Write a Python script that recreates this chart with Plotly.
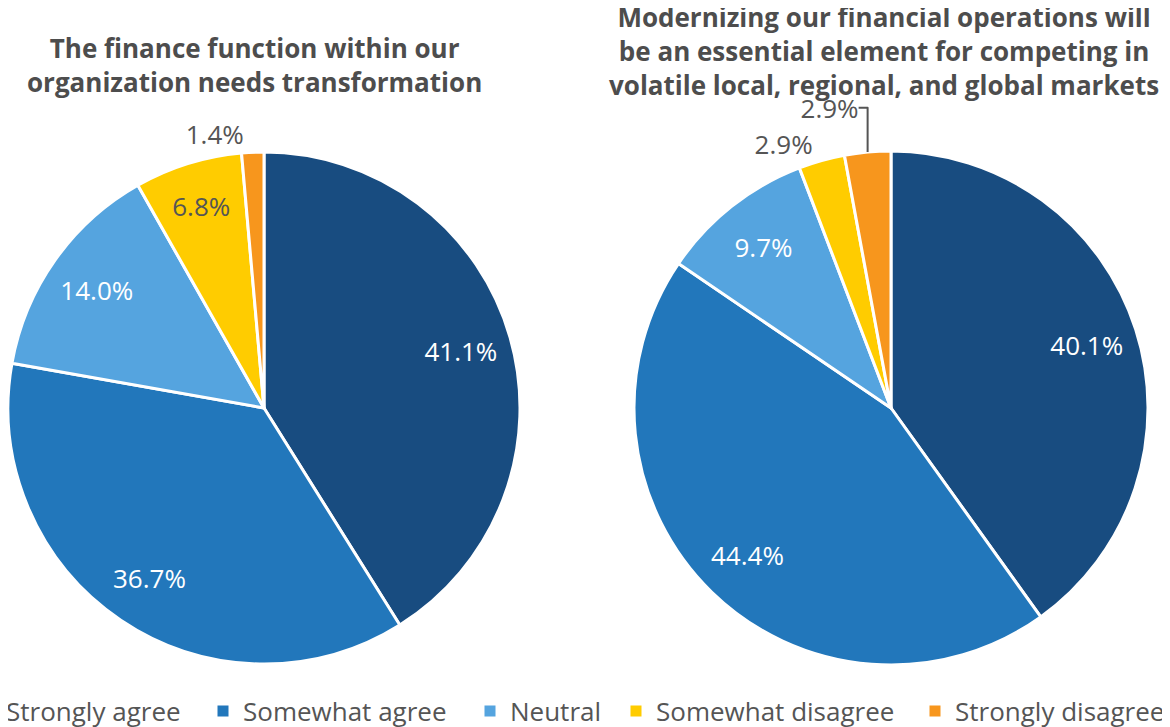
import plotly.graph_objects as go

labels = ['Strongly agree', 'Somewhat agree', 'Neutral', 'Somewhat disagree', 'Strongly disagree']
colors = ['#184c80', '#2277bb', '#55a4df', '#ffcc00', '#f7961d']

transform_vals = [41.1, 36.7, 14.0, 6.8, 1.4]
modernize_vals = [40.1, 44.4, 9.7, 2.9, 2.9]

title_left = 'The finance function within our<br>organization needs transformation'
title_right = ('Modernizing our financial operations will<br>be an essential element for competing in'
               '<br>volatile local, regional, and global markets')

W, H = 1170, 727
OFF = 8  # the page body adds an 8px margin, so positions are shifted back by it
gray = '#555555'
title_col = '#4d4d4d'
inside_cols = ['white', 'white', 'white', gray, gray]
FS = 26

# legend text starts (px), the first marker sits off the page like in the source
legend_text_x = [6, 243, 510, 656, 955]


def px_x(v):
    return (v - OFF) / W


def px_y(v):
    return 1 - (v - OFF) / H


def add_pie(vals, positions, dom_x, dom_y):
    dom = dict(x=dom_x, y=dom_y)
    # the coloured wedges
    fig.add_trace(go.Pie(
        labels=labels, values=vals,
        sort=False, direction='clockwise', rotation=0,
        marker=dict(colors=colors, line=dict(color='white', width=3)),
        textinfo='none', domain=dom, hoverinfo='skip', showlegend=False,
    ))
    # transparent ring on top, so the labels sit out towards the rim
    fig.add_trace(go.Pie(
        labels=labels, values=vals, hole=0.6,
        sort=False, direction='clockwise', rotation=0,
        marker=dict(colors=['rgba(0,0,0,0)'] * len(vals), line=dict(width=0)),
        texttemplate='%{value:.1f}%',
        textposition=positions,
        insidetextorientation='horizontal',
        insidetextfont=dict(color=inside_cols, size=FS, family='Open Sans'),
        outsidetextfont=dict(color=gray, size=FS, family='Open Sans'),
        domain=dom, hoverinfo='label+value', showlegend=False,
    ))


fig = go.Figure()
add_pie(transform_vals, ['inside'] * 4 + ['outside'],
        [0, px_x(520)], [px_y(664), px_y(152)])
add_pie(modernize_vals, ['inside'] * 3 + ['outside'] * 2,
        [px_x(634), px_x(1148)], [px_y(665), px_y(151)])

# one legend per category so each entry lands where the source has it
legends = {}
for i, (lab, col) in enumerate(zip(labels, colors)):
    key = 'legend' if i == 0 else 'legend%d' % (i + 1)
    fig.add_trace(go.Scatter(x=[None], y=[None], mode='markers', name=lab,
                             marker=dict(symbol='square', size=11, color=col),
                             legend=key, hoverinfo='skip'))
    legends[key] = dict(x=px_x(legend_text_x[i] - 40), xanchor='left',
                        y=px_y(711), yanchor='middle', bgcolor='rgba(0,0,0,0)',
                        font=dict(size=FS, color=gray, family='Open Sans'),
                        itemclick=False, itemdoubleclick=False)

fig.update_layout(
    width=W, height=H,
    margin=dict(l=0, r=0, t=0, b=0, autoexpand=False),
    paper_bgcolor='white', plot_bgcolor='white',
    font=dict(family='Open Sans', color=gray),
    xaxis=dict(visible=False),
    yaxis=dict(visible=False),
    annotations=[
        dict(text='<b>' + title_left + '</b>', x=px_x(254), y=px_y(65),
             xref='paper', yref='paper', xanchor='center', yanchor='middle', showarrow=False,
             font=dict(size=FS, color=title_col, family='Open Sans')),
        dict(text='<b>' + title_right + '</b>', x=px_x(884), y=px_y(51),
             xref='paper', yref='paper', xanchor='center', yanchor='middle', showarrow=False,
             font=dict(size=FS, color=title_col, family='Open Sans')),
    ],
    **legends,
)

fig.write_html('out.html')
